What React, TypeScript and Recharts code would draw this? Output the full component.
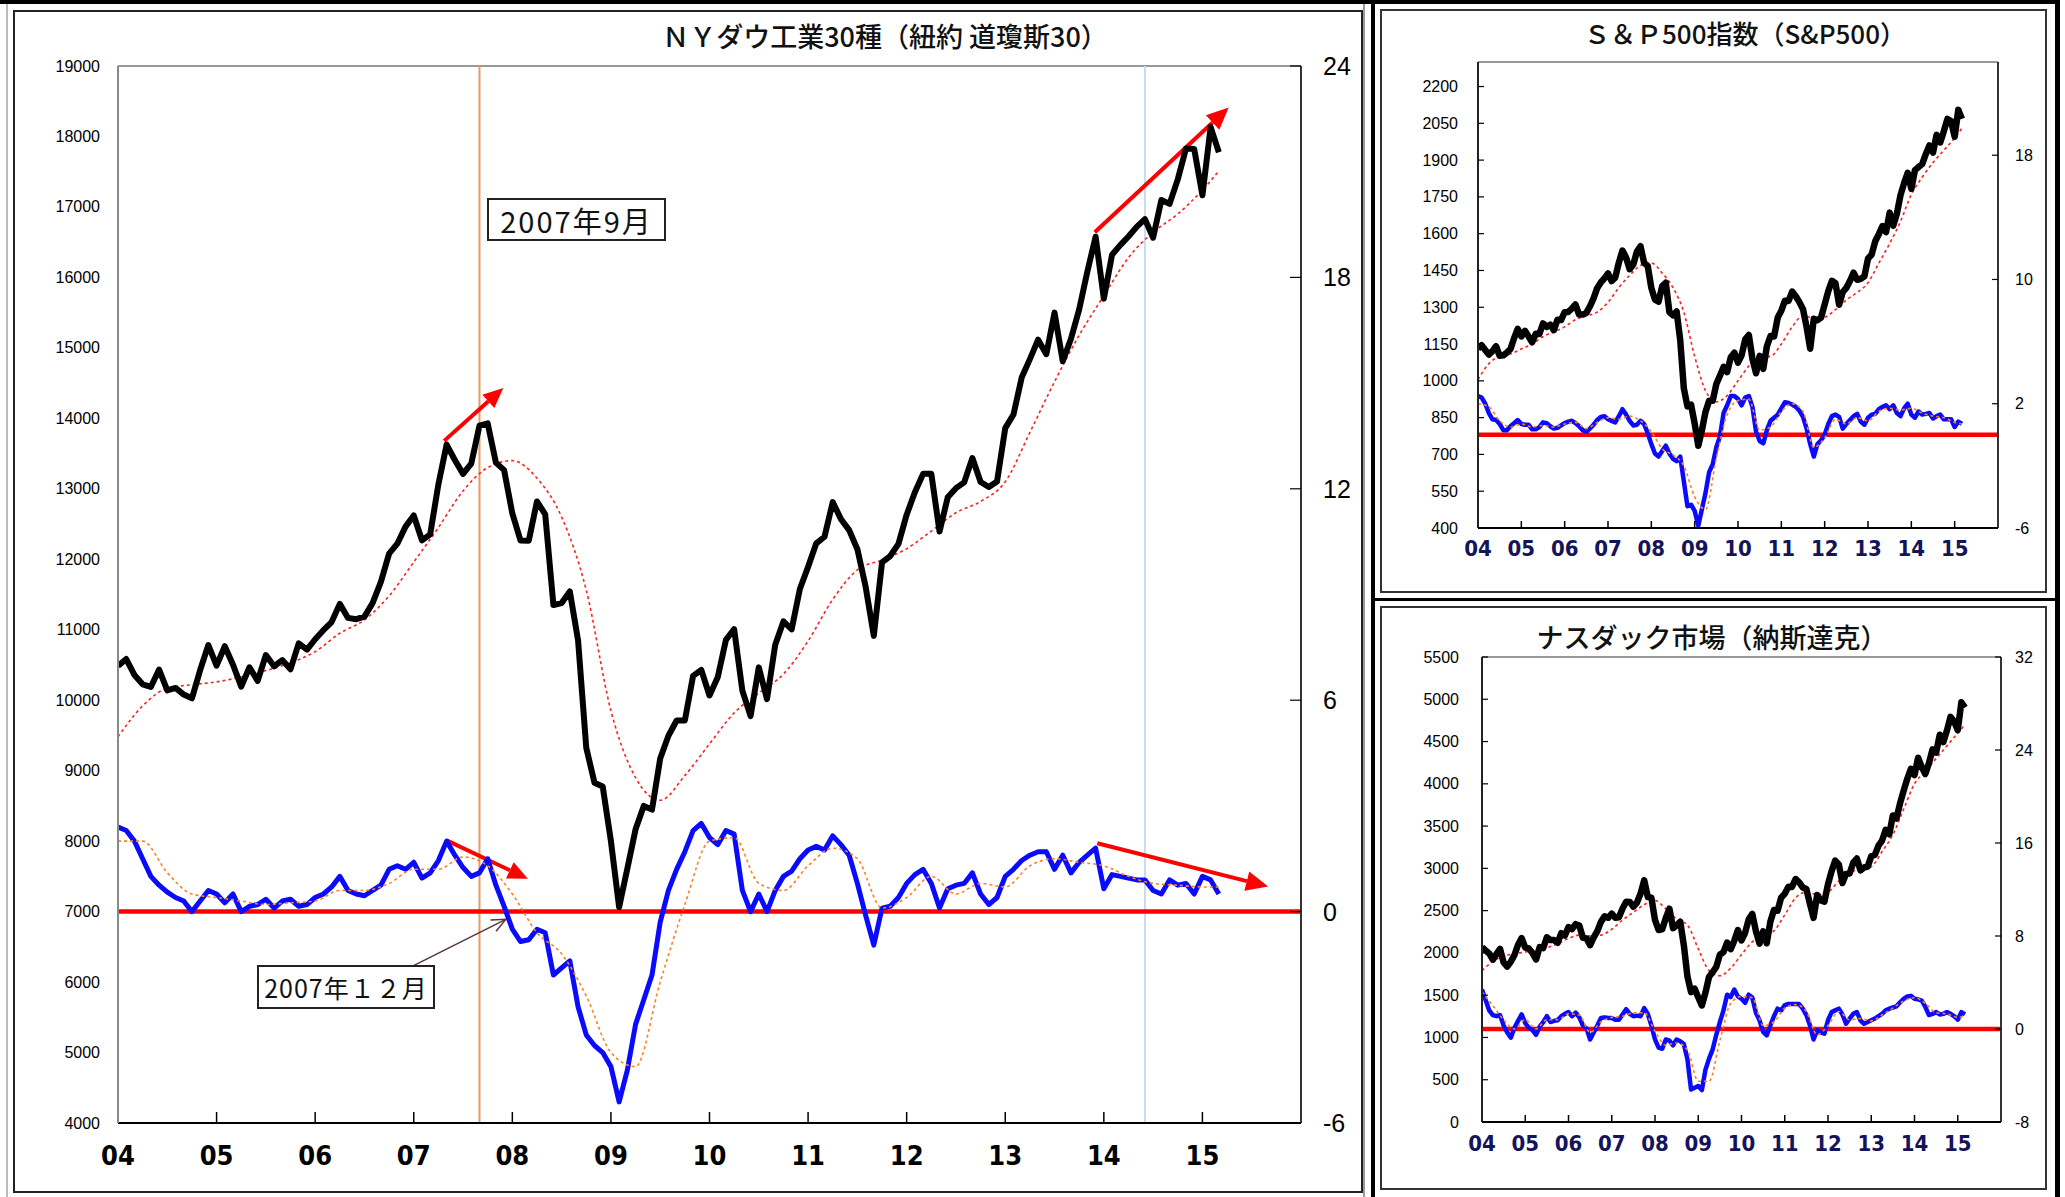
import React from 'react';
import { LineChart, Line, XAxis, YAxis, ReferenceLine } from 'recharts';

// month index 0 = 2004-01, last = 2015-03
const YEAR_TICKS = [0, 12, 24, 36, 48, 60, 72, 84, 96, 108, 120, 132];
const YEAR_LABELS = ['04', '05', '06', '07', '08', '09', '10', '11', '12', '13', '14', '15'];
const MONTH_IDX = Array.from({ length: 135 }, (_, i) => i);
const QUARTER_IDX = [0, 3, 6, 9, 12, 15, 18, 21, 24, 27, 30, 33, 36, 39, 42, 45, 48, 51, 54, 57, 60, 63, 66, 69, 72, 75, 78, 81, 84, 87, 90, 93, 96, 99, 102, 105, 108, 111, 114, 117, 120, 123, 126, 129, 132, 134];

// NY Dow
const DOW_CLOSE = [
  10488, 10584, 10358, 10226, 10188, 10435, 10140, 10174, 10080, 10027, 10428, 10783,
  10490, 10766, 10504, 10193, 10467, 10275, 10641, 10482, 10569, 10440, 10806, 10718,
  10865, 10993, 11109, 11367, 11168, 11150, 11186, 11381, 11679, 12081, 12221, 12463,
  12622, 12269, 12354, 13063, 13628, 13409, 13212, 13358, 13896, 13930, 13372, 13265,
  12650, 12266, 12263, 12820, 12638, 11350, 11378, 11544, 10851, 9325, 8829, 8776,
  8001, 7063, 7609, 8168, 8500, 8447, 9172, 9496, 9712, 9713, 10345, 10428,
  10067, 10325, 10857, 11009, 10137, 9774, 10466, 10015, 10788, 11118, 11006, 11578,
  11892, 12226, 12320, 12811, 12570, 12414, 12143, 11614, 10913, 11955, 12046, 12218,
  12633, 12952, 13212, 13214, 12393, 12880, 13009, 13091, 13437, 13096, 13026, 13104,
  13861, 14054, 14579, 14840, 15116, 14910, 15500, 14810, 15130, 15546, 16086, 16577,
  15699, 16322, 16458, 16581, 16717, 16827, 16563, 17098, 17043, 17391, 17828, 17823,
  17165, 18133, 17776,
];
const DOW_DEV = [
  2.4, 2.3, 2.0, 1.5, 1.0, 0.75, 0.55, 0.4, 0.3, 0.0, 0.3, 0.6,
  0.5, 0.25, 0.5, 0.0, 0.15, 0.2, 0.35, 0.1, 0.3, 0.35, 0.15, 0.2,
  0.4, 0.5, 0.7, 1.0, 0.6, 0.5, 0.45, 0.6, 0.75, 1.2, 1.3, 1.2,
  1.4, 0.95, 1.1, 1.45, 2.0, 1.6, 1.25, 1.0, 1.1, 1.5, 0.75, 0.15,
  -0.5, -0.85, -0.8, -0.5, -0.6, -1.8, -1.6, -1.4, -2.7, -3.5, -3.8, -4.0,
  -4.4, -5.4, -4.5, -3.2, -2.5, -1.8, -0.3, 0.6, 1.2, 1.7, 2.3, 2.5,
  2.1, 1.9, 2.3, 2.2, 0.6, 0.0, 0.5, 0.0, 0.6, 1.0, 1.15, 1.5,
  1.75, 1.85, 1.75, 2.15, 1.9, 1.6, 0.8, -0.1, -0.95, 0.1, 0.15, 0.4,
  0.8, 1.05, 1.2, 0.8, 0.1, 0.65, 0.75, 0.8, 1.1, 0.5, 0.2, 0.4,
  1.0, 1.2, 1.45, 1.6, 1.7, 1.7, 1.2, 1.6, 1.1, 1.4, 1.6, 1.8,
  0.65, 1.05, 1.0, 0.95, 0.9, 0.9, 0.6, 0.5, 0.9, 0.75, 0.8, 0.5,
  1.0, 0.9, 0.5,
];
const DOW_MA = [
  9480, 9920, 10170, 10220, 10260, 10330, 10420, 10530, 10690, 10950, 11140, 11480,
  11960, 12450, 12970, 13300, 13400, 13150, 12600, 11560, 9850, 8900, 8580, 8930,
  9380, 9820, 10100, 10370, 10840, 11430, 11850, 11990, 12150, 12400, 12660, 12820,
  13100, 13800, 14520, 15180, 15740, 16280, 16640, 16900, 17240, 17510,
];
const DOW_DEV_MA = [
  2.0, 2.0, 1.1, 0.5, 0.4, 0.3, 0.2, 0.25, 0.3, 0.6, 0.6, 0.8,
  1.2, 1.2, 1.55, 1.3, 0.5, -0.6, -1.2, -2.4, -4.0, -4.4, -2.0, 0.2,
  2.0, 2.1, 0.8, 0.6, 1.3, 1.8, 1.5, 0.1, 0.4, 1.0, 0.5, 0.8,
  0.7, 1.3, 1.5, 1.4, 1.3, 1.0, 0.8, 0.75, 0.7, 0.7,
];

// S&P 500
const SP_CLOSE = [
  1131, 1145, 1126, 1107, 1121, 1141, 1102, 1104, 1115, 1130, 1174, 1212,
  1181, 1204, 1181, 1157, 1192, 1191, 1234, 1220, 1229, 1207, 1249, 1248,
  1280, 1281, 1295, 1311, 1270, 1270, 1277, 1304, 1336, 1378, 1401, 1418,
  1438, 1407, 1421, 1482, 1531, 1503, 1455, 1474, 1527, 1549, 1481, 1468,
  1379, 1331, 1323, 1386, 1400, 1280, 1267, 1283, 1166, 969, 896, 903,
  826, 735, 798, 873, 919, 919, 987, 1021, 1057, 1036, 1096, 1115,
  1074, 1104, 1169, 1187, 1089, 1031, 1102, 1049, 1141, 1183, 1181, 1258,
  1286, 1327, 1326, 1364, 1345, 1321, 1292, 1219, 1131, 1253, 1247, 1258,
  1312, 1366, 1408, 1398, 1310, 1362, 1379, 1407, 1441, 1412, 1416, 1426,
  1498, 1515, 1569, 1598, 1631, 1606, 1686, 1633, 1682, 1757, 1806, 1848,
  1783, 1859, 1872, 1884, 1924, 1960, 1931, 2003, 1972, 2018, 2068, 2059,
  1995, 2105, 2068,
];
const SP_DEV = [
  2.5, 2.4, 2.0, 1.4, 1.0, 0.95, 0.7, 0.3, 0.3, 0.55, 0.75, 0.95,
  0.7, 0.65, 0.65, 0.35, 0.35, 0.5, 0.8, 0.75, 0.55, 0.4, 0.45, 0.6,
  0.75, 0.85, 0.9, 0.75, 0.55, 0.3, 0.2, 0.4, 0.65, 0.95, 1.15, 1.2,
  1.0, 0.9, 0.8, 1.2, 1.65, 1.3, 0.9, 0.6, 0.65, 0.9, 0.7, 0.1,
  -0.6, -1.2, -1.4, -1.05, -0.7, -1.2, -1.55, -1.7, -1.4, -3.0, -4.6, -4.5,
  -4.9, -5.85, -4.8, -3.75, -2.4, -1.9, -0.8, -0.1, 1.4, 1.9, 2.5, 2.5,
  2.3, 1.9, 2.4, 2.5, 1.8, 0.2, -0.4, -0.55, 0.3, 0.9, 1.1, 1.3,
  1.7, 2.1, 2.05, 1.95, 1.8, 1.55, 1.15, 0.4, -0.6, -1.4, -0.6, -0.35,
  0.0, 0.7, 1.2, 1.3, 1.15, 0.4, 0.7, 0.95, 1.2, 1.35, 0.85, 0.65,
  1.1, 1.3, 1.35, 1.65, 1.8, 1.9, 1.65, 1.9, 1.4, 1.2, 1.7, 2.0,
  1.3, 1.1, 1.5, 1.3, 1.35, 1.4, 1.05, 1.2, 1.3, 1.0, 1.0, 1.0,
  0.5, 0.85, 0.7,
];
const SP_MA = [
  1005, 1070, 1100, 1110, 1130, 1150, 1180, 1200, 1220, 1250, 1265, 1280,
  1320, 1380, 1430, 1470, 1480, 1440, 1380, 1280, 1100, 960, 915, 940,
  1000, 1060, 1095, 1100, 1150, 1220, 1265, 1255, 1260, 1290, 1330, 1360,
  1400, 1480, 1560, 1650, 1760, 1830, 1890, 1940, 1990, 2030,
];
const SP_DEV_MA = [
  2.0, 1.8, 0.9, 0.5, 0.7, 0.5, 0.6, 0.5, 0.7, 0.8, 0.4, 0.8,
  1.1, 1.0, 1.2, 0.9, 0.2, -0.9, -1.3, -2.0, -4.0, -4.8, -1.5, 1.3,
  2.2, 2.3, 0.3, 0.5, 1.5, 2.0, 1.5, -0.8, -0.2, 1.0, 0.7, 1.1,
  0.9, 1.5, 1.7, 1.6, 1.7, 1.4, 1.2, 1.1, 0.8, 0.7,
];

// NASDAQ
const NQ_CLOSE = [
  2066, 2030, 1994, 1920, 1987, 2048, 1887, 1838, 1897, 1975, 2097, 2175,
  2062, 2052, 1999, 1922, 2068, 2057, 2185, 2152, 2152, 2120, 2233, 2205,
  2306, 2281, 2340, 2323, 2179, 2172, 2091, 2184, 2258, 2367, 2432, 2415,
  2464, 2416, 2422, 2525, 2605, 2603, 2546, 2596, 2702, 2859, 2661, 2652,
  2390, 2271, 2279, 2413, 2523, 2293, 2326, 2368, 2092, 1721, 1536, 1577,
  1476, 1378, 1529, 1717, 1774, 1835, 1979, 2009, 2122, 2045, 2145, 2269,
  2147, 2238, 2398, 2461, 2257, 2109, 2255, 2114, 2369, 2507, 2498, 2653,
  2700, 2782, 2781, 2874, 2835, 2774, 2756, 2579, 2415, 2684, 2620, 2605,
  2814, 2967, 3091, 3046, 2827, 2935, 2940, 3067, 3116, 2977, 3010, 3020,
  3142, 3160, 3268, 3329, 3456, 3403, 3626, 3590, 3771, 3920, 4060, 4177,
  4104, 4308, 4199, 4115, 4243, 4408, 4370, 4580, 4493, 4631, 4792, 4736,
  4635, 4964, 4901,
];
const NQ_DEV = [
  3.4, 2.5, 1.6, 1.2, 1.1, 1.2, 0.3, -0.3, -0.75, 0.1, 0.7, 1.25,
  0.5, 0.1, -0.1, -0.5, 0.2, 0.6, 1.1, 0.6, 0.7, 0.75, 1.1, 1.3,
  1.45, 1.1, 1.4, 1.0, 0.3, 0.05, -0.9, -0.3, 0.3, 0.95, 1.0, 0.95,
  0.95, 0.8, 0.8, 1.25, 1.7, 1.3, 1.1, 1.15, 1.1, 1.8, 1.3, 0.3,
  -0.9, -1.6, -1.7, -0.9, -1.0, -1.4, -0.9, -1.05, -1.3, -2.6, -5.2, -5.05,
  -4.9, -5.25, -3.5, -2.55, -1.75, -0.5, 0.6, 1.6, 2.95, 2.75, 3.4, 2.8,
  2.6, 2.25, 2.95, 2.7, 1.4, 0.75, -0.25, -0.55, 0.3, 1.1, 1.75, 1.6,
  2.05, 2.15, 2.15, 2.15, 2.15, 1.75, 1.2, 0.3, -0.9, -0.1, -0.3, -0.4,
  0.75, 1.45, 1.6, 1.75, 1.25, 0.45, 0.9, 1.3, 1.45, 0.75, 0.45, 0.6,
  0.75, 0.9, 1.1, 1.3, 1.6, 1.75, 1.85, 1.95, 2.3, 2.6, 2.8, 2.85,
  2.6, 2.55, 2.45, 1.9, 1.2, 1.3, 1.45, 1.25, 1.3, 1.45, 1.3, 1.1,
  0.8, 1.45, 1.25,
];
const NQ_MA = [
  1790, 1900, 1960, 1990, 2010, 2040, 2060, 2110, 2170, 2210, 2200, 2210,
  2280, 2390, 2480, 2570, 2620, 2520, 2400, 2330, 2050, 1790, 1730, 1820,
  1980, 2130, 2200, 2260, 2450, 2650, 2720, 2690, 2720, 2850, 2950, 2990,
  3020, 3200, 3400, 3700, 4000, 4150, 4300, 4450, 4600, 4700,
];
const NQ_DEV_MA = [
  3.2, 2.0, 0.8, 0.0, 0.8, 0.0, 0.8, 0.8, 1.3, 1.2, -0.3, 0.6,
  1.0, 1.1, 1.4, 1.4, -0.2, -1.4, -1.2, -1.8, -4.5, -4.5, -1.0, 2.2,
  2.8, 2.7, 0.3, 0.6, 1.8, 2.1, 1.5, -0.5, 0.3, 1.5, 0.8, 0.9,
  0.7, 1.2, 1.8, 2.4, 2.7, 2.2, 1.4, 1.3, 1.0, 1.1,
];

type Row = { m: number; close: number; dev: number };
type QRow = { m: number; ma: number; devMa: number };

const monthly = (close: number[], dev: number[]): Row[] =>
  MONTH_IDX.map((m, i) => ({ m, close: close[i], dev: dev[i] }));
const quarterly = (ma: number[], devMa: number[]): QRow[] =>
  QUARTER_IDX.map((m, i) => ({ m, ma: ma[i], devMa: devMa[i] }));

const NUM_FONT = "'Liberation Sans', Arial, sans-serif";
const COND_FONT = "'DejaVu Sans Condensed', 'Liberation Sans Narrow', 'Liberation Sans', sans-serif";
const JP_FONT = "'Noto Sans CJK JP', 'Noto Sans CJK SC', sans-serif";

function makeXTick(len: number, margin: number, size: number, fill: string) {
  return (props: any) => {
    const { x, y, payload } = props;
    const i = YEAR_TICKS.indexOf(payload.value);
    const ay = y - margin;
    return (
      <g>
        {i > 0 && <line x1={x} x2={x} y1={ay} y2={ay - len} stroke="#000" strokeWidth={1.5} />}
        <text x={x} y={y} textAnchor="middle" dominantBaseline="hanging" fill={fill}
          style={{ fontFamily: COND_FONT, fontSize: size, fontWeight: 700 }}>
          {YEAR_LABELS[i]}
        </text>
      </g>
    );
  };
}

function makeYTick(side: 'left' | 'right', len: number, margin: number, size: number) {
  return (props: any) => {
    const { x, y, payload } = props;
    const ax = side === 'left' ? x + margin : x - margin;
    const dir = side === 'left' ? 1 : -1;
    return (
      <g>
        {len > 0 && <line x1={ax} x2={ax + dir * len} y1={y} y2={y} stroke="#000" strokeWidth={1.2} />}
        <text x={x} y={y} textAnchor={side === 'left' ? 'end' : 'start'} dominantBaseline="central"
          fill="#000" style={{ fontFamily: NUM_FONT, fontSize: size }}>
          {payload.value}
        </text>
      </g>
    );
  };
}

function arrowShape(color: string, width: number, head: number, open = false) {
  return (p: any) => {
    const { x1, y1, x2, y2 } = p;
    const a = Math.atan2(y2 - y1, x2 - x1);
    const bx = x2 - head * Math.cos(a);
    const by = y2 - head * Math.sin(a);
    const hw = head * 0.45;
    const px = -Math.sin(a) * hw;
    const py = Math.cos(a) * hw;
    return (
      <g>
        <line x1={x1} y1={y1} x2={open ? x2 : bx} y2={open ? y2 : by} stroke={color} strokeWidth={width} />
        {open ? (
          <polyline points={`${bx + px},${by + py} ${x2},${y2} ${bx - px},${by - py}`} fill="none" stroke={color} strokeWidth={width} />
        ) : (
          <polygon points={`${x2},${y2} ${bx + px},${by + py} ${bx - px},${by - py}`} fill={color} />
        )}
      </g>
    );
  };
}

type PanelProps = {
  left: number; top: number; width: number; height: number;
  marginTop: number; leftW: number; rightW: number; xH: number;
  data: Row[]; qdata: QRow[];
  lDomain: [number, number]; lTicks: number[];
  rDomain: [number, number]; rTicks: number[];
  lTick: any; rTick: any; xTick: any; xMargin: number;
  blackW: number; blueW: number;
  leftAxisColor: string;
  extras?: React.ReactNode[];
};

function Panel(p: PanelProps) {
  return (
    <div style={{ position: 'absolute', left: p.left, top: p.top }}>
      <LineChart width={p.width} height={p.height} data={p.data}
        margin={{ top: p.marginTop, right: 0, bottom: 0, left: 0 }}>
        <XAxis dataKey="m" type="number" domain={[0, 144]} ticks={YEAR_TICKS} interval={0}
          height={p.xH} tickSize={0} tickMargin={p.xMargin} tick={p.xTick}
          axisLine={{ stroke: '#000', strokeWidth: 2 }} allowDataOverflow />
        <YAxis yAxisId="L" orientation="left" domain={p.lDomain} ticks={p.lTicks} interval={0}
          width={p.leftW} tickSize={0} tickMargin={p.lTick.margin} tick={p.lTick.fn}
          axisLine={{ stroke: p.leftAxisColor, strokeWidth: 2 }} allowDataOverflow />
        <YAxis yAxisId="R" orientation="right" domain={p.rDomain} ticks={p.rTicks} interval={0}
          width={p.rightW} tickSize={0} tickMargin={p.rTick.margin} tick={p.rTick.fn}
          axisLine={{ stroke: '#333', strokeWidth: 2 }} allowDataOverflow />
        <ReferenceLine yAxisId="L" y={p.lDomain[1]} stroke="#999" strokeWidth={2} />
        {p.extras}
        <ReferenceLine yAxisId="R" y={0} stroke="#ff0000" strokeWidth={4.5} />
        <Line yAxisId="L" data={p.qdata} dataKey="ma" type="monotone" stroke="#ff2020" strokeWidth={1.6}
          strokeDasharray="3 3" dot={false} isAnimationActive={false} />
        <Line yAxisId="L" dataKey="close" type="linear" stroke="#000" strokeWidth={p.blackW}
          strokeLinejoin="round" dot={false} isAnimationActive={false} />
        <Line yAxisId="R" dataKey="dev" type="linear" stroke="#0a0aff" strokeWidth={p.blueW}
          strokeLinejoin="round" dot={false} isAnimationActive={false} />
        <Line yAxisId="R" data={p.qdata} dataKey="devMa" type="monotone" stroke="#ff8020" strokeWidth={1.6}
          strokeDasharray="3 3" dot={false} isAnimationActive={false} />
      </LineChart>
    </div>
  );
}

const boxStyle = (left: number, top: number, w: number, h: number, size: number, spacing: number): React.CSSProperties => ({
  position: 'absolute', left, top, width: w, height: h, boxSizing: 'border-box',
  border: '2px solid #222', background: '#fff', display: 'flex', alignItems: 'center',
  justifyContent: 'center', fontFamily: JP_FONT, fontSize: size, color: '#111',
  letterSpacing: spacing, whiteSpace: 'nowrap', padding: 0,
});

const bar = (left: number, top: number, w: number, h: number, color = '#000'): React.CSSProperties => ({
  position: 'absolute', left, top, width: w, height: h, background: color,
});

export default function App() {
  const dow = monthly(DOW_CLOSE, DOW_DEV);
  const dowQ = quarterly(DOW_MA, DOW_DEV_MA);
  const sp = monthly(SP_CLOSE, SP_DEV);
  const spQ = quarterly(SP_MA, SP_DEV_MA);
  const nq = monthly(NQ_CLOSE, NQ_DEV);
  const nqQ = quarterly(NQ_MA, NQ_DEV_MA);

  const mainExtras = [
    <ReferenceLine key="v1" yAxisId="L" x={44} stroke="#e89a60" strokeWidth={2} />,
    <ReferenceLine key="v2" yAxisId="L" x={125} stroke="#c9d9f2" strokeWidth={2} />,
    <ReferenceLine key="a1" yAxisId="L" segment={[{ x: 39.7, y: 13680 }, { x: 46.9, y: 14430 }]}
      shape={arrowShape('#ff0000', 4, 20)} ifOverflow="visible" />,
    <ReferenceLine key="a2" yAxisId="L" segment={[{ x: 118.9, y: 16640 }, { x: 135.2, y: 18410 }]}
      shape={arrowShape('#ff0000', 4, 22)} ifOverflow="visible" />,
    <ReferenceLine key="a3" yAxisId="R" segment={[{ x: 40, y: 2.02 }, { x: 49.9, y: 0.93 }]}
      shape={arrowShape('#ff0000', 4, 20)} ifOverflow="visible" />,
    <ReferenceLine key="a4" yAxisId="R" segment={[{ x: 119.2, y: 1.94 }, { x: 140, y: 0.71 }]}
      shape={arrowShape('#ff0000', 4, 22)} ifOverflow="visible" />,
    <ReferenceLine key="a5" yAxisId="R" segment={[{ x: 34.4, y: -1.72 }, { x: 47.2, y: -0.22 }]}
      shape={arrowShape('#5a3535', 1.5, 14, true)} ifOverflow="visible" />,
  ];

  return (
    <div style={{ position: 'relative', width: 2065, height: 1197, background: '#fff', overflow: 'hidden' }}>
      <style>{'body{margin:0;}'}</style>
      {/* frames */}
      <div style={bar(0, 0, 2060, 4)} />
      <div style={bar(2055, 0, 5, 1197)} />
      <div style={bar(1371, 0, 4, 1197)} />
      <div style={bar(1371, 598, 689, 3)} />
      <div style={bar(6, 4, 2, 1193, '#bbb')} />
      <div style={bar(1363, 4, 2, 1193, '#999')} />
      <div style={{ position: 'absolute', left: 13, top: 10, width: 1350, height: 1183, boxSizing: 'border-box', border: '2px solid #222' }} />
      <div style={{ position: 'absolute', left: 1380, top: 9, width: 667, height: 584, boxSizing: 'border-box', border: '2px solid #333' }} />
      <div style={{ position: 'absolute', left: 1380, top: 606, width: 667, height: 584, boxSizing: 'border-box', border: '2px solid #333' }} />

      <Panel left={0} top={0} width={1370} height={1190} marginTop={66} leftW={118} rightW={69} xH={67}
        data={dow} qdata={dowQ}
        lDomain={[4000, 19000]} lTicks={[4000, 5000, 6000, 7000, 8000, 9000, 10000, 11000, 12000, 13000, 14000, 15000, 16000, 17000, 18000, 19000]}
        rDomain={[-6, 24]} rTicks={[-6, 0, 6, 12, 18, 24]}
        lTick={{ margin: 18, fn: makeYTick('left', 0, 18, 16) }}
        rTick={{ margin: 22, fn: makeYTick('right', 11, 22, 25) }}
        xTick={makeXTick(11, 22, 27, '#000')} xMargin={22}
        blackW={6} blueW={5} leftAxisColor="#888" extras={mainExtras} />

      <Panel left={1381} top={10} width={665} height={582} marginTop={52} leftW={97} rightW={48} xH={64}
        data={sp} qdata={spQ}
        lDomain={[400, 2300]} lTicks={[400, 550, 700, 850, 1000, 1150, 1300, 1450, 1600, 1750, 1900, 2050, 2200]}
        rDomain={[-6, 24]} rTicks={[-6, 2, 10, 18]}
        lTick={{ margin: 20, fn: makeYTick('left', 6, 20, 16) }}
        rTick={{ margin: 17, fn: makeYTick('right', 6, 17, 16) }}
        xTick={makeXTick(7, 12, 22, '#14145a')} xMargin={12}
        blackW={6.5} blueW={4.5} leftAxisColor="#222" />

      <Panel left={1381} top={607} width={665} height={581} marginTop={50} leftW={101} rightW={45} xH={66}
        data={nq} qdata={nqQ}
        lDomain={[0, 5500]} lTicks={[0, 500, 1000, 1500, 2000, 2500, 3000, 3500, 4000, 4500, 5000, 5500]}
        rDomain={[-8, 32]} rTicks={[-8, 0, 8, 16, 24, 32]}
        lTick={{ margin: 23, fn: makeYTick('left', 6, 23, 16) }}
        rTick={{ margin: 14, fn: makeYTick('right', 6, 14, 16) }}
        xTick={makeXTick(7, 13, 22, '#14145a')} xMargin={13}
        blackW={6.5} blueW={4.5} leftAxisColor="#222" />

      {/* titles */}
      <div style={{ position: 'absolute', left: 600, top: 16, width: 570, textAlign: 'center', fontFamily: JP_FONT, fontSize: 27, fontWeight: 500, color: '#111' }}>
        ＮＹダウ工業30種（紐約 道瓊斯30）
      </div>
      <div style={{ position: 'absolute', left: 1545, top: 14, width: 400, textAlign: 'center', fontFamily: JP_FONT, fontSize: 26, fontWeight: 500, color: '#111' }}>
        Ｓ＆Ｐ500指数（S&amp;P500）
      </div>
      <div style={{ position: 'absolute', left: 1512, top: 617, width: 400, textAlign: 'center', fontFamily: JP_FONT, fontSize: 27, fontWeight: 500, color: '#111' }}>
        ナスダック市場（納斯達克）
      </div>

      {/* annotation boxes */}
      <div style={boxStyle(487, 198, 179, 43, 29, 2)}>2007年9月</div>
      <div style={boxStyle(257, 965, 178, 44, 25, 1)}>2007年１２月</div>
    </div>
  );
}
